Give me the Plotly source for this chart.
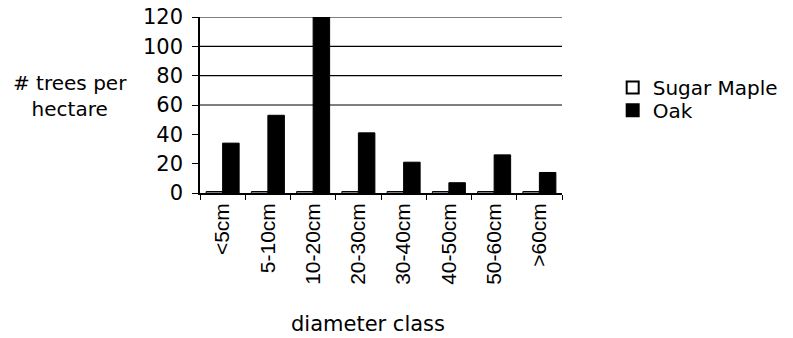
import plotly.graph_objects as go

# Stand density by stem diameter class
categories = ["<5cm", "5-10cm", "10-20cm", "20-30cm", "30-40cm", "40-50cm", "50-60cm", ">60cm"]
sugar_maple = [1, 1, 1, 1, 1, 1, 1, 1]
oak = [34, 53, 120, 41, 21, 7, 26, 14]

y_ticks = [0, 20, 40, 60, 80, 100, 120]
grid_levels = [60, 80, 100, 120]

WIDE = "DejaVu Sans, sans-serif"
ARIAL = "Liberation Sans, Arial, sans-serif"

fig = go.Figure()
fig.add_trace(go.Bar(
    name="Sugar Maple", x=categories, y=sugar_maple, legend="legend",
    marker=dict(color="white", line=dict(color="black", width=1)),
))
fig.add_trace(go.Bar(
    name="Oak", x=categories, y=oak, legend="legend2",
    marker=dict(color="black", line=dict(color="black", width=1)),
))

# horizontal reference lines behind the bars
for lvl in grid_levels:
    fig.add_shape(type="line", xref="paper", yref="y", x0=0, x1=1, y0=lvl, y1=lvl,
                  line=dict(color="black", width=1.2), layer="below")

legend_style = dict(xanchor="left", yanchor="middle", font=dict(family=WIDE, size=20),
                    itemsizing="constant", bgcolor="rgba(0,0,0,0)")

fig.update_layout(
    width=793, height=338,
    margin=dict(l=200, r=231, t=17, b=145, autoexpand=False),
    paper_bgcolor="white", plot_bgcolor="white",
    barmode="group", bargap=0.27, bargroupgap=0,
    font=dict(family=WIDE, size=21, color="black"),
    showlegend=True,
    legend=dict(x=1.14, y=0.60, **legend_style),
    legend2=dict(x=1.14, y=0.47, **legend_style),
    xaxis=dict(
        tickangle=-90, ticks="outside", tickson="boundaries", ticklen=5,
        tickcolor="black", showline=True, linecolor="black", linewidth=1.5,
        showgrid=False, automargin=False, tickfont=dict(family=ARIAL, size=21),
    ),
    yaxis=dict(
        range=[0, 120], tickvals=y_ticks, ticks="outside", ticklen=6,
        tickcolor="black", showline=True, linecolor="black", linewidth=1.5,
        showgrid=False, zeroline=False, ticklabelstandoff=5, automargin=False,
        tickfont=dict(family=WIDE, size=21),
    ),
    annotations=[
        dict(text="# trees per<br>hectare", xref="paper", yref="paper",
             x=-0.36, y=0.55, showarrow=False, font=dict(family=WIDE, size=20),
             xanchor="center", yanchor="middle", align="center"),
        dict(text="diameter class", xref="paper", yref="paper",
             x=0.464, y=-0.744, showarrow=False, font=dict(family=WIDE, size=21),
             xanchor="center", yanchor="middle"),
    ],
)

fig.write_html("out.html")
